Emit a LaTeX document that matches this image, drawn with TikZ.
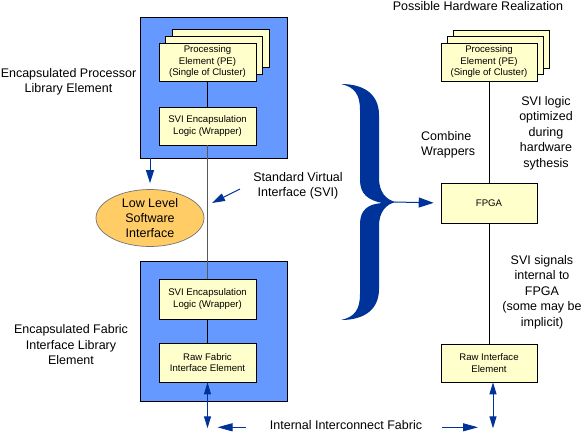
\documentclass[tikz,border=0pt]{standalone}
\usepackage{fontspec}
\setmainfont{Liberation Sans}
\usetikzlibrary{shapes.geometric,arrows.meta,calc}

\definecolor{libblue}{RGB}{102,153,255}
\definecolor{paleyellow}{RGB}{255,255,204}
\definecolor{llorange}{RGB}{255,204,102}
\definecolor{arrowblue}{RGB}{0,51,153}

\begin{document}
\begin{tikzpicture}[x=1pt, y=-1pt,
    every node/.style={inner sep=0pt},
    libbox/.style={draw=black, fill=libblue, line width=0.8pt,
                   minimum width=147pt, minimum height=141pt},
    unitbox/.style={draw=black, fill=paleyellow, line width=0.6pt,
                    minimum width=97pt, minimum height=38pt, align=center,
                    font=\fontsize{9.6}{11.5}\selectfont},
    note/.style={align=center, font=\fontsize{12.5}{15.5}\selectfont},
    wire/.style={line width=0.7pt},
    flow/.style={arrowblue, line width=1pt, -{Triangle[length=13pt,width=8pt]}},
    flowh/.style={arrowblue, line width=1pt, -{Triangle[length=15pt,width=8pt]}},
    flowboth/.style={arrowblue, line width=1pt,
                     {Triangle[length=12pt,width=7pt]}-{Triangle[length=12pt,width=7pt]}}]
    \useasboundingbox (0,0) rectangle (582,432);

    % library elements
    \node[libbox] (procLib) at (213.5,87.5) {};
    \node[libbox, minimum height=140pt] (fabLib) at (213.5,331) {};

    \foreach \k in {2,1}
      \node[unitbox] (peA\k) at ($(207.5,62)+\k*(6.5,-7)$) {};
    \node[unitbox] (peA) at (207.5,62) {Processing\\Element (PE)\\(Single of Cluster)};
    \node[unitbox] (svA) at (207.5,126) {SVI Encapsulation\\Logic (Wrapper)};
    \node[unitbox, minimum height=40pt] (svB) at (207.5,299) {SVI Encapsulation\\Logic (Wrapper)};
    \node[unitbox, minimum height=39pt] (rawB) at (207.5,362.5) {Raw Fabric\\Interface Element};

    \draw[wire] (peA) -- (svA);
    \draw[wire, black!65] (svA) -- (svB);
    \draw[wire] (svB) -- (rawB);

    \node[ellipse, draw=black!55, line width=0.7pt, fill=llorange, minimum width=108pt,
          minimum height=57pt, align=center, font=\fontsize{12.5}{15}\selectfont]
          (llsw) at (150,218) {Low Level\\Software\\Interface};
    \draw[flow, shorten >=6pt] (procLib.south -| llsw.north) -- (llsw.north);

    \node[note] (procLabel) at (68.5,82) {Encapsulated Processor\\Library Element};
    \node[note] (fabLabel) at (71,345) {Encapsulated Fabric\\Interface Library\\Element};

    \node[note] (sviNote) at (298,186) {Standard Virtual\\Interface (SVI)};
    \coordinate (sviTail) at (240,189);
    \coordinate (sviHit) at (212,203);
    \draw[flow] (sviTail) -- (sviHit);

    % hardware realization
    \node[note, anchor=base] (hwTitle) at (478,10.5) {Possible Hardware Realization};
    \foreach \k in {2,1}
      \node[unitbox, minimum width=96pt] (peC\k) at ($(489,62)+\k*(6,-6.5)$) {};
    \node[unitbox, minimum width=96pt] (peC) at (489,62) {Processing\\Element (PE)\\(Single of Cluster)};
    \node[unitbox, minimum width=96pt, minimum height=40pt] (fpga) at (489,203) {FPGA};
    \node[unitbox, minimum width=96pt] (rawC) at (489,363) {Raw Interface\\Element};

    \draw[wire] (peC) -- (fpga);
    \draw[wire] (fpga) -- (rawC);

    \node[note, align=left, anchor=west] (combine) at (421,145) {Combine\\Wrappers};
    \node[note] (sviLogic) at (546,133) {SVI logic\\optimized\\during\\hardware\\sythesis};
    \node[note] (sviSignals) at (542,292) {SVI signals\\internal to\\FPGA\\(some may be\\implicit)};

    % combine brace
    \fill[arrowblue] (341,84) .. controls (365,84) and (379,95) .. (379,115)
      -- (379,178) .. controls (379,192) and (386,200) .. (396,202)
      .. controls (386,204) and (379,212) .. (379,226)
      -- (379,289) .. controls (379,309) and (365,320) .. (341,320)
      .. controls (355,317) and (360,309) .. (360,294)
      -- (360,224) .. controls (360,210) and (368,204) .. (382,203)
      .. controls (368,200) and (360,194) .. (360,180)
      -- (360,110) .. controls (360,95) and (355,87) .. (341,84) -- cycle;
    \coordinate (braceTip) at (395,202);
    \draw[arrowblue, line width=1pt, -{Triangle[length=15pt,width=10pt]}, shorten >=7pt]
      (braceTip) -- (fpga.west);

    % interconnect fabric
    \node[note] (fabric) at (346,425) {Internal Interconnect Fabric};
    \coordinate (fabA) at ($(rawB.south)+(0,46)$);
    \coordinate (fabC) at ($(rawC.south)+(4,46)$);
    \draw[flowboth] (rawB.south) -- (fabA);
    \draw[flowboth] (rawC.south -| fabC) -- (fabC);
    \draw[flowh, shorten <=24pt, shorten >=10pt] (fabric.west |- fabA) ++(0,-1) -- ($(fabA)+(0,-1)$);
    \draw[flowh, shorten <=20pt, shorten >=15pt] (fabric.east |- fabC) ++(0,-1) -- ($(fabC)+(0,-1)$);
\end{tikzpicture}
\end{document}
